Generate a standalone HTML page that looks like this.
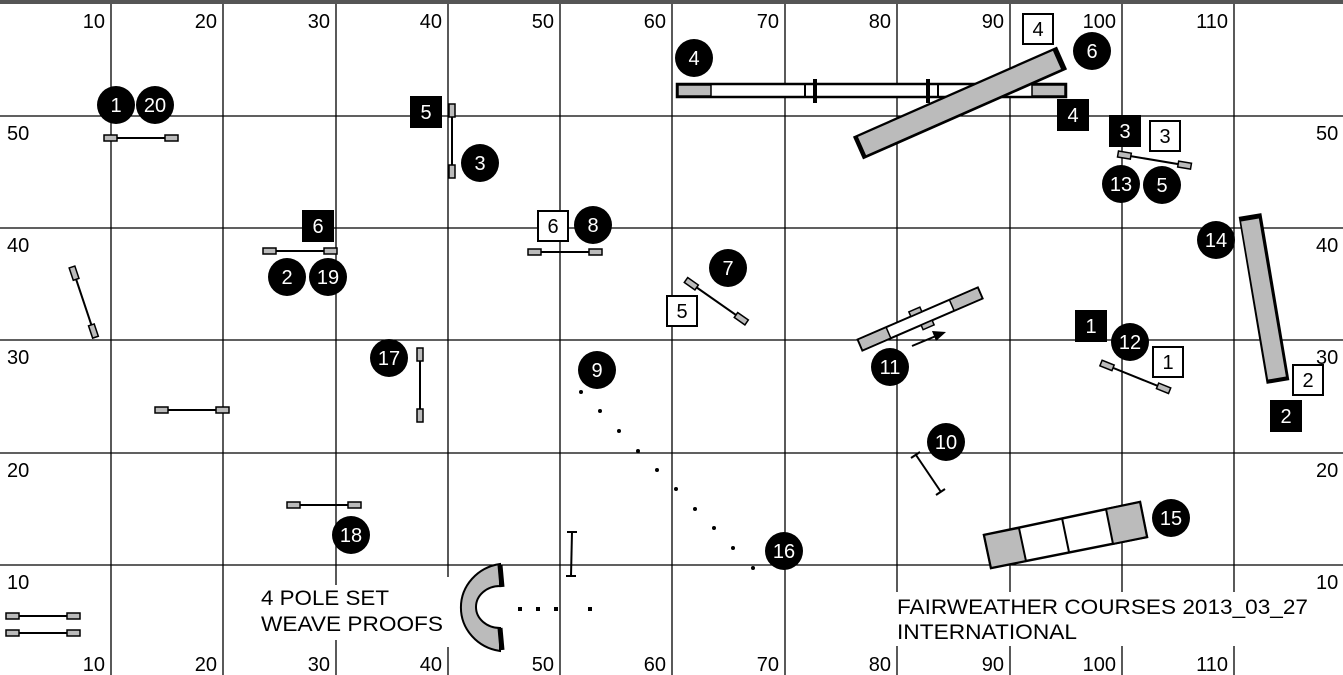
<!DOCTYPE html>
<html><head><meta charset="utf-8"><style>
html,body{margin:0;padding:0;background:#fff}
svg{display:block}
text{font-family:"Liberation Sans",Arial,sans-serif}
</style></head><body>
<svg width="1343" height="675" viewBox="0 0 1343 675" xmlns="http://www.w3.org/2000/svg">
<rect width="1343" height="675" fill="#fff"/>
<rect x="0" y="0" width="1343" height="4" fill="#555"/>
<g stroke="#000" stroke-width="1.3">
<line x1="111" y1="4" x2="111" y2="675"/><line x1="223" y1="4" x2="223" y2="675"/>
<line x1="336" y1="4" x2="336" y2="675"/><line x1="448" y1="4" x2="448" y2="675"/>
<line x1="560" y1="4" x2="560" y2="675"/><line x1="672" y1="4" x2="672" y2="675"/>
<line x1="785" y1="4" x2="785" y2="675"/><line x1="897" y1="4" x2="897" y2="675"/>
<line x1="1010" y1="4" x2="1010" y2="675"/><line x1="1122" y1="4" x2="1122" y2="675"/>
<line x1="1234" y1="4" x2="1234" y2="675"/>
<line x1="0" y1="116" x2="1343" y2="116"/><line x1="0" y1="228" x2="1343" y2="228"/>
<line x1="0" y1="340" x2="1343" y2="340"/><line x1="0" y1="453" x2="1343" y2="453"/>
<line x1="0" y1="565" x2="1343" y2="565"/>
</g>
<rect x="255" y="585" width="192" height="55" fill="#fff"/>
<rect x="447" y="577" width="60" height="70" fill="#fff"/>
<rect x="890" y="592" width="422" height="54" fill="#fff"/>
<g font-size="20" fill="#000" text-anchor="end">
<text x="105" y="28">10</text><text x="217" y="28">20</text><text x="330" y="28">30</text><text x="442" y="28">40</text><text x="554" y="28">50</text><text x="666" y="28">60</text><text x="779" y="28">70</text><text x="891" y="28">80</text><text x="1004" y="28">90</text><text x="1116" y="28">100</text><text x="1228" y="28">110</text>
<text x="105" y="671">10</text><text x="217" y="671">20</text><text x="330" y="671">30</text><text x="442" y="671">40</text><text x="554" y="671">50</text><text x="666" y="671">60</text><text x="779" y="671">70</text><text x="891" y="671">80</text><text x="1004" y="671">90</text><text x="1116" y="671">100</text><text x="1228" y="671">110</text>
</g>
<g font-size="20" fill="#000">
<text x="7" y="140">50</text><text x="7" y="252">40</text><text x="7" y="364">30</text><text x="7" y="477">20</text><text x="7" y="589">10</text>
<text x="1316" y="140">50</text><text x="1316" y="252">40</text><text x="1316" y="364">30</text><text x="1316" y="477">20</text><text x="1316" y="589">10</text>
</g>
<g font-size="21" fill="#000">
<text x="261" y="605" textLength="128" lengthAdjust="spacingAndGlyphs">4 POLE SET</text><text x="261" y="631" textLength="182" lengthAdjust="spacingAndGlyphs">WEAVE PROOFS</text>
<text x="897" y="614" textLength="411" lengthAdjust="spacingAndGlyphs">FAIRWEATHER COURSES 2013_03_27</text><text x="897" y="639" textLength="180" lengthAdjust="spacingAndGlyphs">INTERNATIONAL</text>
</g>
<defs>
<g id="jmp"><line x1="0" y1="0" x2="74" y2="0" stroke="#000" stroke-width="2"/><rect x="0" y="-3" width="13" height="6" fill="#bbb" stroke="#000" stroke-width="1.5"/><rect x="61" y="-3" width="13" height="6" fill="#bbb" stroke="#000" stroke-width="1.5"/></g>
</defs>
<use href="#jmp" transform="translate(104,138)"/>
<use href="#jmp" transform="translate(452,104) rotate(90)"/>
<use href="#jmp" transform="translate(263,251)"/>
<use href="#jmp" transform="translate(528,252)"/>
<use href="#jmp" transform="translate(72,267) rotate(71.5)"/>
<use href="#jmp" transform="translate(155,410)"/>
<use href="#jmp" transform="translate(420,348) rotate(90)"/>
<use href="#jmp" transform="translate(287,505)"/>
<use href="#jmp" transform="translate(686,280) rotate(35)"/>
<use href="#jmp" transform="translate(1118,154) rotate(9.5)"/>
<use href="#jmp" transform="translate(1101,363) rotate(22)"/>
<use href="#jmp" transform="translate(6,616)"/>
<use href="#jmp" transform="translate(6,633)"/>
<!-- dog walk -->
<rect x="677" y="84" width="389" height="13" fill="#fff" stroke="#000" stroke-width="2.5"/>
<rect x="678" y="85" width="33" height="11" fill="#bbb" stroke="#000" stroke-width="1.5"/>
<rect x="1032" y="85" width="33" height="11" fill="#bbb" stroke="#000" stroke-width="1.5"/>
<line x1="805" y1="84" x2="805" y2="97" stroke="#000" stroke-width="2"/><line x1="938" y1="84" x2="938" y2="97" stroke="#000" stroke-width="2"/>
<rect x="813" y="79" width="4" height="24" fill="#000"/>
<rect x="926" y="79" width="4" height="24" fill="#000"/>
<!-- tunnel 1 -->
<line x1="858" y1="148" x2="1062" y2="58" stroke="#000" stroke-width="25"/>
<line x1="862" y1="146" x2="1057" y2="60" stroke="#bbb" stroke-width="20"/>
<!-- tunnel 2 -->
<line x1="1250" y1="215" x2="1278" y2="382" stroke="#000" stroke-width="23"/>
<line x1="1250" y1="220" x2="1277" y2="378" stroke="#bbb" stroke-width="18"/>
<!-- teeter -->
<g transform="translate(860,345) rotate(-23.4)">
<rect x="0" y="-6" width="131" height="12" fill="#fff" stroke="#000" stroke-width="2"/>
<rect x="1" y="-5" width="30" height="10" fill="#bbb"/><rect x="100" y="-5" width="30" height="10" fill="#bbb"/>
<line x1="31" y1="-6" x2="31" y2="6" stroke="#000" stroke-width="1.5"/><line x1="100" y1="-6" x2="100" y2="6" stroke="#000" stroke-width="1.5"/>
<rect x="58" y="-11" width="12" height="5" fill="#bbb" stroke="#000" stroke-width="1.5"/>
<rect x="64" y="6" width="12" height="5" fill="#bbb" stroke="#000" stroke-width="1.5"/>
</g>
<line x1="912" y1="346" x2="936" y2="336" stroke="#000" stroke-width="2"/>
<polygon points="946,332 932,331 936,341" fill="#000"/>
<!-- tire -->
<line x1="916" y1="455" x2="941" y2="492" stroke="#000" stroke-width="2"/>
<line x1="911" y1="458" x2="920" y2="452" stroke="#000" stroke-width="2"/><line x1="936" y1="495" x2="945" y2="489" stroke="#000" stroke-width="2"/>
<!-- post -->
<line x1="572" y1="532" x2="571" y2="576" stroke="#000" stroke-width="2"/>
<line x1="567" y1="532" x2="577" y2="532" stroke="#000" stroke-width="2"/><line x1="566" y1="576" x2="576" y2="576" stroke="#000" stroke-width="2"/>
<!-- A-frame -->
<polygon points="984,535 1140,502 1147,537 991,568" fill="#fff" stroke="#000" stroke-width="2.5"/>
<polygon points="984,535 1019,528 1026,561 991,568" fill="#bbb" stroke="#000" stroke-width="2"/>
<polygon points="1106,509 1140,502 1147,537 1113,544" fill="#bbb" stroke="#000" stroke-width="2"/>
<line x1="1062" y1="518" x2="1069" y2="552" stroke="#000" stroke-width="2"/>
<!-- curved tunnel -->
<path d="M500,564 A46,44 0 0,0 500,651 L500,628 A24,21 0 0,1 500,586 Z" fill="#bbb" stroke="#000" stroke-width="2"/>
<line x1="500" y1="565" x2="502" y2="587" stroke="#000" stroke-width="5"/><line x1="500" y1="628" x2="502" y2="650" stroke="#000" stroke-width="5"/>
<!-- dots -->
<g fill="#000">
<rect x="518" y="607" width="4" height="4"/><rect x="536" y="607" width="4" height="4"/><rect x="554" y="607" width="4" height="4"/><rect x="588" y="607" width="4" height="4"/>
<circle cx="581" cy="392" r="2"/><circle cx="600" cy="411" r="2"/><circle cx="619" cy="431" r="2"/><circle cx="638" cy="451" r="2"/><circle cx="657" cy="470" r="2"/><circle cx="676" cy="489" r="2"/><circle cx="695" cy="509" r="2"/><circle cx="714" cy="528" r="2"/><circle cx="733" cy="548" r="2"/><circle cx="753" cy="568" r="2"/>
</g>
<g fill="#000">
<circle cx="116" cy="105" r="19"/><circle cx="155" cy="105" r="19"/><circle cx="480" cy="163" r="19"/>
<circle cx="287" cy="277" r="19"/><circle cx="328" cy="277" r="19"/><circle cx="593" cy="225" r="19"/>
<circle cx="389" cy="358" r="19"/><circle cx="351" cy="535" r="19"/><circle cx="728" cy="268" r="19"/>
<circle cx="597" cy="370" r="19"/><circle cx="784" cy="551" r="19"/><circle cx="694" cy="58" r="19"/>
<circle cx="1092" cy="51" r="19"/><circle cx="1121" cy="184" r="19"/><circle cx="1162" cy="185" r="19"/>
<circle cx="1216" cy="240" r="19"/><circle cx="1130" cy="342" r="19"/><circle cx="890" cy="367" r="19"/>
<circle cx="946" cy="442" r="19"/><circle cx="1171" cy="518" r="19"/>
</g>
<g fill="#000">
<rect x="410" y="96" width="32" height="32"/><rect x="302" y="210" width="32" height="32"/>
<rect x="1057" y="99" width="32" height="32"/><rect x="1109" y="115" width="32" height="32"/>
<rect x="1075" y="310" width="32" height="32"/><rect x="1270" y="400" width="32" height="32"/>
</g>
<g fill="#fff" stroke="#000" stroke-width="2">
<rect x="538" y="211" width="30" height="30"/><rect x="667" y="296" width="30" height="30"/>
<rect x="1023" y="14" width="30" height="30"/><rect x="1150" y="121" width="30" height="30"/>
<rect x="1153" y="347" width="30" height="30"/><rect x="1293" y="365" width="30" height="30"/>
</g>
<g font-size="20" fill="#fff" text-anchor="middle">
<text x="116" y="112">1</text><text x="155" y="112">20</text><text x="480" y="170">3</text>
<text x="287" y="284">2</text><text x="328" y="284">19</text><text x="593" y="232">8</text>
<text x="389" y="365">17</text><text x="351" y="542">18</text><text x="728" y="275">7</text>
<text x="597" y="377">9</text><text x="784" y="558">16</text><text x="694" y="65">4</text>
<text x="1092" y="58">6</text><text x="1121" y="191">13</text><text x="1162" y="192">5</text>
<text x="1216" y="247">14</text><text x="1130" y="349">12</text><text x="890" y="374">11</text>
<text x="946" y="449">10</text><text x="1171" y="525">15</text>
<text x="426" y="119">5</text><text x="318" y="233">6</text><text x="1073" y="122">4</text>
<text x="1125" y="138">3</text><text x="1091" y="333">1</text><text x="1286" y="423">2</text>
</g>
<g font-size="20" fill="#000" text-anchor="middle">
<text x="553" y="233">6</text><text x="682" y="318">5</text><text x="1038" y="36">4</text>
<text x="1165" y="143">3</text><text x="1168" y="369">1</text><text x="1308" y="387">2</text>
</g>
</svg>
</body></html>
